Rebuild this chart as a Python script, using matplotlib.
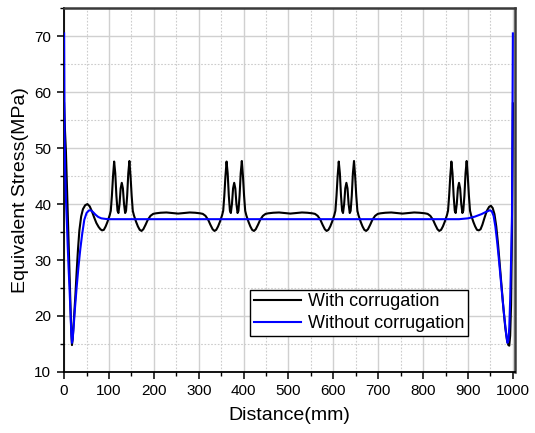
import matplotlib
matplotlib.use("Agg")
import matplotlib.pyplot as plt
from matplotlib.ticker import MultipleLocator

plt.rcParams["font.family"] = ["Liberation Sans", "DejaVu Sans"]

# ---------------- data ----------------
with_x = [0, 2, 4, 6, 8, 10, 12, 14, 16, 17.5, 19, 22, 25, 28, 31, 34, 38, 42, 47, 52, 57, 62, 67, 72, 77, 81,
          84.5, 88.5, 92.5, 96.5, 99, 101.5, 104, 106.5, 109, 111.5, 114, 116.5, 119, 121, 123.5, 126, 128.5,
          131, 133.5, 136, 138, 140.5, 143, 145.5, 148, 150.5, 153, 155.5, 158, 160.5, 164.5, 168.5, 172.5,
          176.5, 181.5, 186.5, 192.5, 198.5, 204.5,
          215, 228, 242, 254, 266, 280, 292,
          303, 309, 315, 321, 326, 331, 335, 339, 343, 347, 349.5, 352, 354.5, 357, 359.5, 362, 364.5, 367,
          369.5, 371.5, 374, 376.5, 379, 381.5, 384, 386.5, 388.5, 391, 393.5, 396, 398.5, 401, 403.5, 406,
          408.5, 411, 415, 419, 423, 427, 432, 437, 443, 449, 455,
          466, 479, 492, 504, 516, 530, 542,
          553, 559, 565, 571, 576, 581, 585, 589, 593, 597, 599.5, 602, 604.5, 607, 609.5, 612, 614.5, 617,
          619.5, 621.5, 624, 626.5, 629, 631.5, 634, 636.5, 638.5, 641, 643.5, 646, 648.5, 651, 653.5, 656,
          658.5, 661, 665, 669, 673, 677, 682, 687, 693, 699, 705,
          716, 729, 742, 754, 766, 780, 792,
          804, 810, 816, 822, 827, 832, 836, 840, 844, 848, 850.5, 853, 855.5, 858, 860.5, 863, 865.5, 868,
          870.5, 872.5, 875, 877.5, 880, 882.5, 885, 887.5, 889.5, 892, 894.5, 897, 899.5, 902, 904.5, 907,
          909.5, 912, 916, 920, 924,
          928, 932, 937, 942, 947, 951, 955, 959, 963, 967, 971, 975, 979, 983, 987, 990, 992, 994, 996,
          998, 1000]
with_y = [58, 53, 49.5, 44, 38, 32.5, 27, 21.5, 17, 14.8, 15.8, 19.5, 23.5, 28, 32, 35.3, 37.8, 39.1, 39.8,
          40.0, 39.6, 38.7, 37.6, 36.6, 35.9, 35.5,
          35.3, 35.4, 36.0, 36.8, 37.4, 38.0, 38.8, 41.5, 45.0, 47.6, 45.5, 41.5, 38.8, 38.4, 40.0, 42.8, 43.8,
          42.8, 40.0, 38.4, 38.8, 41.5, 45.5, 47.7, 45.0, 41.5, 38.8, 38.0, 37.4, 36.8, 36.0, 35.4, 35.2,
          35.5, 36.3, 37.2, 37.9, 38.25, 38.35,
          38.45, 38.5, 38.4, 38.3, 38.4, 38.5, 38.45,
          38.35, 38.25, 37.9, 37.2, 36.3, 35.5, 35.2, 35.4, 36.0, 36.8, 37.4, 38.0, 38.8, 41.5, 45.0, 47.6,
          45.5, 41.5, 38.8, 38.4, 40.0, 42.8, 43.8, 42.8, 40.0, 38.4, 38.8, 41.5, 45.5, 47.7, 45.0, 41.5,
          38.8, 38.0, 37.4, 36.8, 36.0, 35.4, 35.2, 35.5, 36.3, 37.2, 37.9, 38.25, 38.35,
          38.45, 38.5, 38.4, 38.3, 38.4, 38.5, 38.45,
          38.35, 38.25, 37.9, 37.2, 36.3, 35.5, 35.2, 35.4, 36.0, 36.8, 37.4, 38.0, 38.8, 41.5, 45.0, 47.6,
          45.5, 41.5, 38.8, 38.4, 40.0, 42.8, 43.8, 42.8, 40.0, 38.4, 38.8, 41.5, 45.5, 47.7, 45.0, 41.5,
          38.8, 38.0, 37.4, 36.8, 36.0, 35.4, 35.2, 35.5, 36.3, 37.2, 37.9, 38.25, 38.35,
          38.45, 38.5, 38.4, 38.3, 38.4, 38.5, 38.45,
          38.35, 38.25, 37.9, 37.2, 36.3, 35.5, 35.2, 35.4, 36.0, 36.8, 37.4, 38.0, 38.8, 41.5, 45.0, 47.6,
          45.5, 41.5, 38.8, 38.4, 40.0, 42.8, 43.8, 42.8, 40.0, 38.4, 38.8, 41.5, 45.5, 47.7, 45.0, 41.5,
          38.8, 38.0, 37.4, 36.8, 36.0, 35.4, 35.3,
          35.5, 36.3, 37.6, 38.8, 39.5, 39.7, 39.3, 38.2, 36.0, 32.8, 29.0, 25.0, 21.3, 18.0, 15.6, 14.8,
          14.7, 16.5, 22, 35, 58]

without_x = [0, 0.5, 1, 2, 4, 6, 8, 10, 12, 14, 16, 17.5, 19, 21, 24, 28, 32, 36, 40, 45, 50, 55, 59, 64, 70,
             76, 83, 92, 100, 300, 500, 700, 880, 900, 915, 930, 940, 949, 953, 957, 961, 965, 969, 973, 977,
             981, 985, 988, 990, 992, 994, 996, 998, 1000]
without_y = [70.5, 62, 53, 47, 41, 37, 32.5, 28.5, 25, 21, 17, 15.2, 15.8, 17.8, 21.2, 25.2, 28.8, 31.9, 34.5,
             37.2, 38.4, 38.85, 38.9, 38.6, 38.1, 37.7, 37.45, 37.35, 37.3, 37.3, 37.3, 37.3, 37.3, 37.45,
             37.75, 38.2, 38.6, 38.9, 38.7, 37.9, 36.0, 33.2, 30.0, 26.5, 23.0, 19.8, 16.8, 15.2, 15.6, 18,
             23, 30, 38, 70.5]

x_ticks = list(range(0, 1001, 100))
y_ticks = list(range(10, 71, 10))

# ---------------- plot ----------------
fig = plt.figure(figsize=(5.35, 4.33), dpi=100)
ax = fig.add_axes([0.119, 0.141, 0.843, 0.84])

ax.plot(with_x, with_y, color="black", lw=1.5, label="With corrugation", zorder=3)
ax.plot(without_x, without_y, color="#0000ff", lw=1.5, label="Without corrugation", zorder=4)

ax.set_xlim(-1, 1004)
ax.set_ylim(10, 75)
ax.set_xticks(x_ticks)
ax.set_yticks(y_ticks)
ax.xaxis.set_minor_locator(MultipleLocator(50))
ax.yaxis.set_minor_locator(MultipleLocator(5))

ax.grid(which="major", color="#d0d0d0", lw=1.0, ls="-", zorder=0)
ax.grid(which="minor", color="#cccccc", lw=0.8, ls=(0, (1.5, 1.5)), zorder=0)
ax.set_axisbelow(True)

ax.tick_params(which="major", direction="out", length=5, width=1.1, labelsize=11, pad=4,
               top=False, right=False)
ax.tick_params(which="minor", direction="out", length=3, width=1.0, top=False, right=False)

for s in ["left", "bottom"]:
    ax.spines[s].set_color("black")
    ax.spines[s].set_linewidth(1.3)
for s in ["top", "right"]:
    ax.spines[s].set_color("#3a3a3a")
    ax.spines[s].set_linewidth(1.8)

ax.set_xlabel("Distance(mm)", fontsize=14, labelpad=6)
ax.set_ylabel("Equivalent Stress(MPa)", fontsize=14, labelpad=4)

leg = ax.legend(loc="lower right", bbox_to_anchor=(0.897, 0.10), fontsize=13, frameon=True,
                fancybox=False, edgecolor="black", framealpha=1, borderpad=0.2, labelspacing=0.25,
                handlelength=2.6, handletextpad=0.4, borderaxespad=0)
leg.get_frame().set_linewidth(1.0)

fig.savefig("out.png", dpi=100)
